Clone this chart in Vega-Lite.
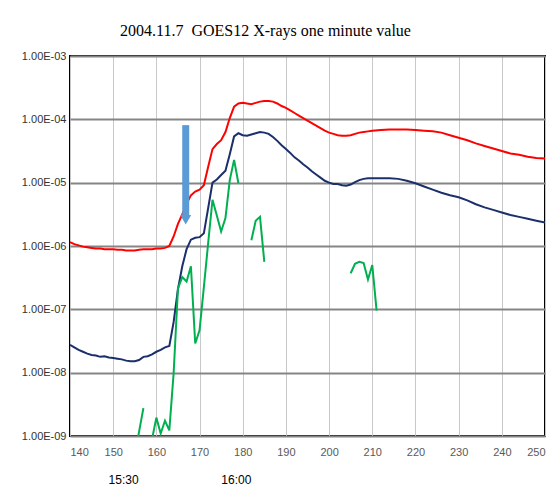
{
  "$schema": "https://vega.github.io/schema/vega-lite/v6.json",
  "width": 475,
  "height": 380,
  "autosize": {"type": "none"},
  "padding": {"left": 70, "top": 56, "right": 14, "bottom": 64},
  "background": "white",
  "title": {
    "text": "2004.11.7\u00a0 GOES12 X-rays one minute value",
    "font": "Liberation Serif",
    "fontSize": 16,
    "fontWeight": "normal",
    "color": "black",
    "anchor": "middle",
    "baseline": "alphabetic",
    "offset": -2,
    "dx": -42
  },
  "config": {
    "view": {"stroke": "black", "strokeWidth": 2},
    "axis": {"labelFont": "Liberation Sans"}
  },
  "datasets": {
    "red": [
      {"t": 140, "flux": 1.148e-6}, {"t": 141, "flux": 1.072e-6}, {"t": 142, "flux": 1.023e-6},
      {"t": 143, "flux": 9.772e-7}, {"t": 144, "flux": 9.55e-7}, {"t": 145, "flux": 9.333e-7},
      {"t": 146, "flux": 9.12e-7}, {"t": 147, "flux": 9.12e-7}, {"t": 148, "flux": 8.913e-7},
      {"t": 149, "flux": 8.913e-7}, {"t": 150, "flux": 8.913e-7}, {"t": 151, "flux": 8.71e-7},
      {"t": 152, "flux": 8.71e-7}, {"t": 153, "flux": 8.511e-7}, {"t": 154, "flux": 8.511e-7},
      {"t": 155, "flux": 8.511e-7}, {"t": 156, "flux": 8.71e-7}, {"t": 157, "flux": 8.913e-7},
      {"t": 158, "flux": 8.913e-7}, {"t": 159, "flux": 8.913e-7}, {"t": 160, "flux": 9.12e-7},
      {"t": 161, "flux": 9.12e-7}, {"t": 162, "flux": 9.333e-7}, {"t": 163, "flux": 1.0e-6},
      {"t": 164, "flux": 1.413e-6}, {"t": 165, "flux": 2.239e-6}, {"t": 166, "flux": 3.162e-6},
      {"t": 167, "flux": 4.677e-6}, {"t": 168, "flux": 6.31e-6}, {"t": 169, "flux": 7.244e-6},
      {"t": 170, "flux": 7.762e-6}, {"t": 171, "flux": 9.12e-6}, {"t": 172, "flux": 1.778e-5},
      {"t": 173, "flux": 3.388e-5}, {"t": 174, "flux": 4.074e-5}, {"t": 175, "flux": 4.677e-5},
      {"t": 176, "flux": 6.31e-5}, {"t": 177, "flux": 1.047e-4}, {"t": 178, "flux": 1.585e-4},
      {"t": 179, "flux": 1.778e-4}, {"t": 180, "flux": 1.82e-4}, {"t": 181, "flux": 1.778e-4},
      {"t": 182, "flux": 1.738e-4}, {"t": 183, "flux": 1.82e-4}, {"t": 184, "flux": 1.905e-4},
      {"t": 185, "flux": 1.95e-4}, {"t": 186, "flux": 1.95e-4}, {"t": 187, "flux": 1.905e-4},
      {"t": 188, "flux": 1.778e-4}, {"t": 189, "flux": 1.622e-4}, {"t": 190, "flux": 1.514e-4},
      {"t": 191, "flux": 1.38e-4}, {"t": 192, "flux": 1.259e-4}, {"t": 193, "flux": 1.148e-4},
      {"t": 194, "flux": 1.047e-4}, {"t": 195, "flux": 9.55e-5}, {"t": 196, "flux": 8.71e-5},
      {"t": 197, "flux": 7.943e-5}, {"t": 198, "flux": 7.244e-5}, {"t": 199, "flux": 6.607e-5},
      {"t": 200, "flux": 6.166e-5}, {"t": 201, "flux": 5.888e-5}, {"t": 202, "flux": 5.623e-5},
      {"t": 203, "flux": 5.495e-5}, {"t": 204, "flux": 5.495e-5}, {"t": 205, "flux": 5.623e-5},
      {"t": 206, "flux": 5.888e-5}, {"t": 207, "flux": 6.166e-5}, {"t": 208, "flux": 6.31e-5},
      {"t": 209, "flux": 6.457e-5}, {"t": 210, "flux": 6.607e-5}, {"t": 212, "flux": 6.761e-5},
      {"t": 214, "flux": 6.918e-5}, {"t": 216, "flux": 6.918e-5}, {"t": 218, "flux": 6.918e-5},
      {"t": 220, "flux": 6.761e-5}, {"t": 222, "flux": 6.607e-5}, {"t": 224, "flux": 6.457e-5},
      {"t": 226, "flux": 6.166e-5}, {"t": 228, "flux": 5.623e-5}, {"t": 230, "flux": 5.129e-5},
      {"t": 232, "flux": 4.677e-5}, {"t": 234, "flux": 4.169e-5}, {"t": 236, "flux": 3.802e-5},
      {"t": 238, "flux": 3.467e-5}, {"t": 240, "flux": 3.162e-5}, {"t": 242, "flux": 2.884e-5},
      {"t": 244, "flux": 2.754e-5}, {"t": 246, "flux": 2.57e-5}, {"t": 248, "flux": 2.455e-5},
      {"t": 250, "flux": 2.399e-5}
    ],
    "navy": [
      {"t": 140, "flux": 2.754e-8}, {"t": 141, "flux": 2.512e-8}, {"t": 142, "flux": 2.291e-8},
      {"t": 143, "flux": 2.138e-8}, {"t": 144, "flux": 1.995e-8}, {"t": 145, "flux": 1.905e-8},
      {"t": 146, "flux": 1.862e-8}, {"t": 147, "flux": 1.778e-8}, {"t": 148, "flux": 1.82e-8},
      {"t": 149, "flux": 1.738e-8}, {"t": 150, "flux": 1.698e-8}, {"t": 151, "flux": 1.66e-8},
      {"t": 152, "flux": 1.622e-8}, {"t": 153, "flux": 1.549e-8}, {"t": 154, "flux": 1.514e-8},
      {"t": 155, "flux": 1.514e-8}, {"t": 156, "flux": 1.585e-8}, {"t": 157, "flux": 1.778e-8},
      {"t": 158, "flux": 1.82e-8}, {"t": 159, "flux": 1.95e-8}, {"t": 160, "flux": 2.138e-8},
      {"t": 161, "flux": 2.291e-8}, {"t": 162, "flux": 2.512e-8}, {"t": 163, "flux": 2.63e-8},
      {"t": 164, "flux": 6.31e-8}, {"t": 165, "flux": 2.089e-7}, {"t": 166, "flux": 4.786e-7},
      {"t": 167, "flux": 8.913e-7}, {"t": 168, "flux": 1.259e-6}, {"t": 169, "flux": 1.349e-6},
      {"t": 170, "flux": 1.38e-6}, {"t": 171, "flux": 1.585e-6}, {"t": 172, "flux": 3.981e-6},
      {"t": 173, "flux": 1.0e-5}, {"t": 174, "flux": 1.122e-5}, {"t": 175, "flux": 1.318e-5},
      {"t": 176, "flux": 1.549e-5}, {"t": 177, "flux": 2.818e-5}, {"t": 178, "flux": 5.37e-5},
      {"t": 179, "flux": 6.026e-5}, {"t": 180, "flux": 5.623e-5}, {"t": 181, "flux": 5.495e-5},
      {"t": 182, "flux": 5.754e-5}, {"t": 183, "flux": 6.026e-5}, {"t": 184, "flux": 6.31e-5},
      {"t": 185, "flux": 6.166e-5}, {"t": 186, "flux": 5.888e-5}, {"t": 187, "flux": 5.248e-5},
      {"t": 188, "flux": 4.571e-5}, {"t": 189, "flux": 3.89e-5}, {"t": 190, "flux": 3.388e-5},
      {"t": 191, "flux": 2.951e-5}, {"t": 192, "flux": 2.512e-5}, {"t": 193, "flux": 2.239e-5},
      {"t": 194, "flux": 1.95e-5}, {"t": 195, "flux": 1.738e-5}, {"t": 196, "flux": 1.514e-5},
      {"t": 197, "flux": 1.349e-5}, {"t": 198, "flux": 1.202e-5}, {"t": 199, "flux": 1.072e-5},
      {"t": 200, "flux": 1.0e-5}, {"t": 201, "flux": 9.55e-6}, {"t": 202, "flux": 9.55e-6},
      {"t": 203, "flux": 9.12e-6}, {"t": 204, "flux": 8.913e-6}, {"t": 205, "flux": 9.333e-6},
      {"t": 206, "flux": 1.023e-5}, {"t": 207, "flux": 1.096e-5}, {"t": 208, "flux": 1.148e-5},
      {"t": 209, "flux": 1.175e-5}, {"t": 210, "flux": 1.175e-5}, {"t": 212, "flux": 1.175e-5},
      {"t": 214, "flux": 1.175e-5}, {"t": 216, "flux": 1.148e-5}, {"t": 218, "flux": 1.072e-5},
      {"t": 220, "flux": 9.772e-6}, {"t": 222, "flux": 8.71e-6}, {"t": 224, "flux": 7.762e-6},
      {"t": 226, "flux": 6.918e-6}, {"t": 228, "flux": 6.31e-6}, {"t": 230, "flux": 5.888e-6},
      {"t": 232, "flux": 5.248e-6}, {"t": 234, "flux": 4.571e-6}, {"t": 236, "flux": 4.074e-6},
      {"t": 238, "flux": 3.715e-6}, {"t": 240, "flux": 3.388e-6}, {"t": 242, "flux": 3.09e-6},
      {"t": 244, "flux": 2.884e-6}, {"t": 246, "flux": 2.692e-6}, {"t": 248, "flux": 2.512e-6},
      {"t": 250, "flux": 2.344e-6}
    ],
    "green": [
      {"t": 155, "flux": 5.012e-10, "seg": 1}, {"t": 156, "flux": 1.175e-9, "seg": 1}, {"t": 157, "flux": 2.754e-9, "seg": 1},
      {"t": 159, "flux": 8.913e-10, "seg": 2}, {"t": 160, "flux": 1.95e-9, "seg": 2}, {"t": 161, "flux": 1.096e-9, "seg": 2},
      {"t": 162, "flux": 1.738e-9, "seg": 2}, {"t": 163, "flux": 1.23e-9, "seg": 2}, {"t": 164, "flux": 9.772e-9, "seg": 2},
      {"t": 165, "flux": 2.138e-7, "seg": 2}, {"t": 166, "flux": 3.236e-7, "seg": 2}, {"t": 167, "flux": 2.754e-7, "seg": 2},
      {"t": 168, "flux": 4.786e-7, "seg": 2}, {"t": 169, "flux": 2.884e-8, "seg": 2}, {"t": 170, "flux": 4.677e-8, "seg": 2},
      {"t": 171, "flux": 2.239e-7, "seg": 2}, {"t": 172, "flux": 1.122e-6, "seg": 2}, {"t": 173, "flux": 5.37e-6, "seg": 2},
      {"t": 174, "flux": 3.02e-6, "seg": 2}, {"t": 175, "flux": 1.698e-6, "seg": 2}, {"t": 176, "flux": 2.754e-6, "seg": 2},
      {"t": 177, "flux": 1.096e-5, "seg": 2}, {"t": 178, "flux": 2.291e-5, "seg": 2}, {"t": 179, "flux": 9.772e-6, "seg": 2},
      {"t": 182, "flux": 1.23e-6, "seg": 3}, {"t": 183, "flux": 2.512e-6, "seg": 3}, {"t": 184, "flux": 2.884e-6, "seg": 3},
      {"t": 185, "flux": 5.623e-7, "seg": 3},
      {"t": 205, "flux": 3.715e-7, "seg": 4}, {"t": 206, "flux": 5.248e-7, "seg": 4}, {"t": 207, "flux": 5.623e-7, "seg": 4},
      {"t": 208, "flux": 5.37e-7, "seg": 4}, {"t": 209, "flux": 2.951e-7, "seg": 4}, {"t": 210, "flux": 5.012e-7, "seg": 4},
      {"t": 211, "flux": 9.55e-8, "seg": 4}
    ],
    "arrow": [
      {"t": 166.8, "flux": 8.1e-5, "flux2": 3.0e-6, "head": 2.6e-6}
    ]
  },
  "layer": [
    {
      "encoding": {
        "x": {
          "field": "t", "type": "quantitative",
          "scale": {"domain": [140, 250], "nice": false, "zero": false},
          "axis": {
            "title": null, "values": [140, 150, 160, 170, 180, 190, 200, 210, 220, 230, 240, 250],
            "grid": true, "gridColor": "#c8c8c8", "gridWidth": 1,
            "ticks": false, "domain": false,
            "labelFontSize": 11, "labelColor": "#595959", "labelPadding": 10
          }
        },
        "y": {
          "field": "flux", "type": "quantitative",
          "scale": {"type": "log", "domain": [1e-9, 1e-3], "nice": false},
          "axis": {
            "title": null, "values": [1e-9, 1e-8, 1e-7, 1e-6, 1e-5, 1e-4, 1e-3],
            "labelExpr": "replace(upper(format(datum.value, '.2e')), 'E-', 'E-0')",
            "grid": true, "gridColor": "#858585", "gridWidth": 2,
            "ticks": false, "domain": false,
            "labelFontSize": 11, "labelColor": "#333333", "labelPadding": 4
          }
        }
      },
      "layer": [
        {"data": {"name": "red"}, "mark": {"type": "line", "color": "#ff0000", "strokeWidth": 2, "clip": true}},
        {"data": {"name": "navy"}, "mark": {"type": "line", "color": "#1b2f6b", "strokeWidth": 2, "clip": true}},
        {"data": {"name": "green"}, "mark": {"type": "line", "color": "#00b050", "strokeWidth": 2, "clip": true},
         "encoding": {"detail": {"field": "seg", "type": "nominal"}}}
      ]
    },
    {
      "data": {"name": "arrow"},
      "encoding": {
        "x": {
          "field": "t", "type": "quantitative",
          "axis": {
            "title": null, "orient": "bottom", "values": [152.3, 178.4],
            "labelExpr": "datum.value < 160 ? '15:30' : '16:00'",
            "grid": false, "ticks": false, "domain": false,
            "labelFontSize": 12, "labelColor": "#000000", "labelPadding": 10, "offset": 28
          }
        }
      },
      "layer": [
        {"mark": {"type": "rule", "color": "#5b9bd5", "strokeWidth": 7},
         "encoding": {"y": {"field": "flux", "type": "quantitative", "axis": null}, "y2": {"field": "flux2"}}},
        {"mark": {"type": "point", "shape": "triangle-down", "filled": true, "color": "#5b9bd5", "size": 120, "opacity": 1},
         "encoding": {"y": {"field": "head", "type": "quantitative", "axis": null}}}
      ]
    }
  ],
  "resolve": {"axis": {"x": "independent", "y": "independent"}}
}
